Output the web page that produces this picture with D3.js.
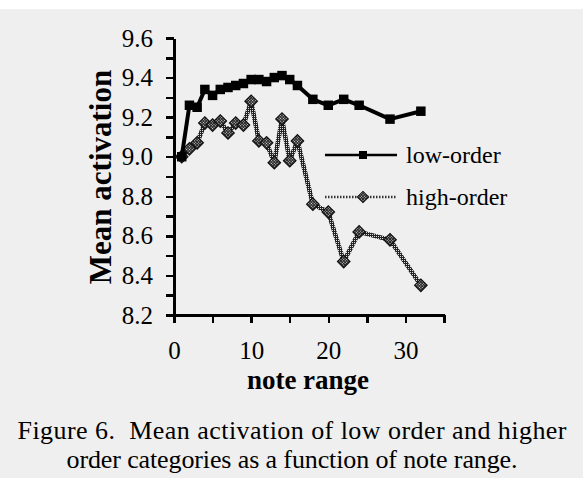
<!DOCTYPE html>
<meta charset="utf-8">
<style>
    body {
        margin: 0;
        background-color: #fff;
    }

    svg {
        display: block;
    }

    .axis path,
    .axis line {
        fill: none;
        stroke: #000;
        shape-rendering: crispEdges;
    }

    .axis path {
        stroke-width: 3px;
    }

    .axis line {
        stroke-width: 2.5px;
    }

    .axis text {
        font: 25px "Liberation Serif", "Times New Roman", serif;
        fill: #000;
    }

    .title {
        font: bold 27px "Liberation Serif", "Times New Roman", serif;
        fill: #000;
    }

    .legend text {
        font: 24px "Liberation Serif", "Times New Roman", serif;
        fill: #000;
    }

    .caption {
        font: 26px "Liberation Serif", "Times New Roman", serif;
        fill: #000;
    }
</style>

<body>
    <svg width="583" height="478"></svg>
    <script src="https://cdn.jsdelivr.net/npm/d3@7"></script>
    <script>
        // values
        var noteRange = [1, 2, 3, 4, 5, 6, 7, 8, 9, 10, 11, 12, 13, 14, 15, 16, 18, 20, 22, 24, 28, 32];
        var lowOrder = [9.00, 9.26, 9.25, 9.34, 9.31, 9.34, 9.35, 9.36, 9.37, 9.39, 9.39, 9.38, 9.40, 9.41,
            9.39, 9.36, 9.29, 9.26, 9.29, 9.26, 9.19, 9.23];
        var highOrder = [9.00, 9.04, 9.07, 9.17, 9.16, 9.18, 9.12, 9.17, 9.16, 9.28, 9.08, 9.07, 8.97, 9.19,
            8.98, 9.08, 8.76, 8.72, 8.47, 8.62, 8.58, 8.35];

        var seriesNames = ["low-order", "high-order"];
        var xLabelTicks = [0, 10, 20, 30];
        var yLabelTicks = [8.2, 8.4, 8.6, 8.8, 9.0, 9.2, 9.4, 9.6];
        var captionLines = ["Figure 6.  Mean activation of low order and higher",
            "order categories as a function of note range."];

        var svg = d3.select("svg"),
            W = +svg.attr("width"),
            H = +svg.attr("height");

        // scanned page background
        svg.append("rect").attr("width", W).attr("height", H).attr("fill", "#fff");
        svg.append("rect").attr("y", 9).attr("width", W).attr("height", H - 9).attr("fill", "#efefef");

        // dotted texture of the high-order marks
        var defs = svg.append("defs");
        var pat = defs.append("pattern")
            .attr("id", "checker")
            .attr("width", 2)
            .attr("height", 2)
            .attr("patternUnits", "userSpaceOnUse");
        pat.append("rect").attr("width", 2).attr("height", 2).attr("fill", "#222");
        pat.append("rect").attr("width", 1).attr("height", 1).attr("fill", "#ddd");

        var x = d3.scaleLinear().domain([0, 35]).range([174, 444]),
            y = d3.scaleLinear().domain([8.2, 9.6]).range([315, 38]);

        var fmt = d3.format(".1f");

        svg.append("g")
            .attr("class", "axis axis--y")
            .attr("transform", "translate(" + x(0) + ",0)")
            .call(d3.axisLeft(y)
                .tickValues(y.ticks(14))
                .tickSize(8)
                .tickSizeOuter(0)
                .tickPadding(13)
                .tickFormat(function (d) {
                    return yLabelTicks.some(function (t) { return Math.abs(t - d) < 1e-6; }) ? fmt(d) : "";
                }));

        svg.append("g")
            .attr("class", "axis axis--x")
            .attr("transform", "translate(0," + y(8.2) + ")")
            .call(d3.axisBottom(x)
                .tickValues(d3.range(0, 36, 5))
                .tickSize(8)
                .tickSizeOuter(0)
                .tickPadding(18)
                .tickFormat(function (d) {
                    return xLabelTicks.indexOf(d) >= 0 ? d : "";
                }));

        svg.append("text")
            .attr("class", "title")
            .attr("x", 308)
            .attr("y", 389)
            .attr("text-anchor", "middle")
            .text("note range");

        svg.append("text")
            .attr("class", "title")
            .attr("transform", "translate(111,177) rotate(-90)")
            .attr("text-anchor", "middle")
            .style("font-size", "31px")
            .text("Mean activation");

        var lowData = noteRange.map(function (d, i) { return [d, lowOrder[i]]; }),
            highData = noteRange.map(function (d, i) { return [d, highOrder[i]]; });

        var line = d3.line()
            .x(function (d) { return x(d[0]); })
            .y(function (d) { return y(d[1]); });

        var square = d3.symbol(d3.symbolSquare, 90)(),
            diamond = d3.symbol(d3.symbolSquare, 78)();

        // high-order series
        svg.append("path")
            .datum(highData)
            .attr("fill", "none")
            .attr("stroke", "url(#checker)")
            .attr("stroke-width", 4.5)
            .attr("stroke-linejoin", "round")
            .attr("d", line);
        svg.selectAll(".hi")
            .data(highData)
            .enter().append("path")
            .attr("class", "hi")
            .attr("d", diamond)
            .attr("transform", function (d) {
                return "translate(" + x(d[0]) + "," + y(d[1]) + ") rotate(45)";
            })
            .attr("fill", "url(#checker)")
            .attr("stroke", "#111")
            .attr("stroke-width", 1.2);

        // low-order series
        svg.append("path")
            .datum(lowData)
            .attr("fill", "none")
            .attr("stroke", "#000")
            .attr("stroke-width", 4)
            .attr("stroke-linejoin", "round")
            .attr("d", line);
        svg.selectAll(".lo")
            .data(lowData)
            .enter().append("path")
            .attr("class", "lo")
            .attr("d", square)
            .attr("transform", function (d) {
                return "translate(" + x(d[0]) + "," + y(d[1]) + ")";
            })
            .attr("fill", "#000");

        // legend
        var legend = svg.append("g").attr("class", "legend");
        var leg = legend.selectAll("g")
            .data(seriesNames)
            .enter().append("g")
            .attr("transform", function (d, i) { return "translate(0," + (155 + i * 42) + ")"; });

        leg.append("line")
            .attr("x1", 325)
            .attr("x2", 397)
            .attr("stroke", function (d, i) { return i ? "#333" : "#000"; })
            .attr("stroke-width", 2.5)
            .attr("stroke-dasharray", function (d, i) { return i ? "1.5,1.5" : null; });

        leg.append("path")
            .attr("d", function (d, i) { return i ? d3.symbol(d3.symbolSquare, 64)() : d3.symbol(d3.symbolSquare, 64)(); })
            .attr("transform", function (d, i) { return "translate(363,0)" + (i ? " rotate(45)" : ""); })
            .attr("fill", function (d, i) { return i ? "url(#checker)" : "#000"; })
            .attr("stroke", function (d, i) { return i ? "#111" : "none"; });

        leg.append("text")
            .attr("x", 406)
            .attr("y", 8)
            .text(function (d) { return d; });

        svg.selectAll(".caption")
            .data(captionLines)
            .enter().append("text")
            .attr("class", "caption")
            .attr("x", 292)
            .attr("y", function (d, i) { return 439 + i * 29; })
            .attr("text-anchor", "middle")
            .attr("xml:space", "preserve")
            .attr("textLength", function (d, i) { return i ? 451 : 549; })
            .attr("lengthAdjust", "spacing")
            .text(function (d) { return d; });
    </script>
</body>
